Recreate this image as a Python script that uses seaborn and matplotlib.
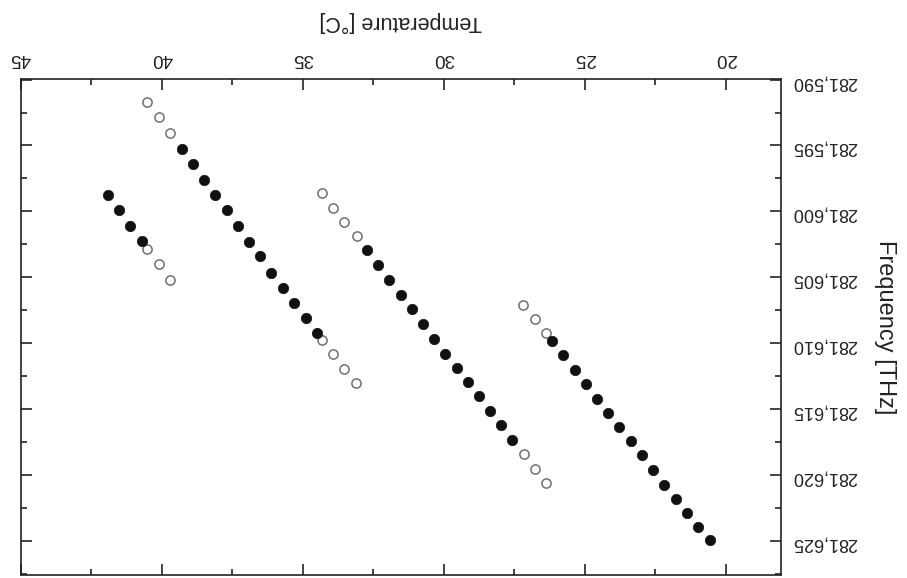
import pandas as pd
import seaborn as sns
import matplotlib.pyplot as plt
from matplotlib.ticker import MultipleLocator, FuncFormatter

# branch A (right-most)
a_open_temp = [27.18, 26.76, 26.37]
a_open_freq = [281.60708, 281.60816, 281.60923]
a_fill_temp = [26.17, 25.76, 25.35, 24.96, 24.57, 24.17, 23.77, 23.37,
               22.98, 22.59, 22.18, 21.76, 21.37, 20.97, 20.56]
a_fill_freq = [281.60983, 281.61091, 281.61204, 281.61314, 281.61422,
               281.61532, 281.61640, 281.61745, 281.61850, 281.61963,
               281.62074, 281.62181, 281.62289, 281.62395, 281.62497]

# branch B
b_open_temp = [34.30, 33.94, 33.54, 33.09, 27.16, 26.76, 26.37]
b_open_freq = [281.59863, 281.59971, 281.60079, 281.60184,
               281.61844, 281.61956, 281.62064]
b_fill_temp = [32.71, 32.32, 31.93, 31.52, 31.11, 30.72, 30.34,
               29.95, 29.54, 29.15, 28.75, 28.36, 27.98, 27.57]
b_fill_freq = [281.60294, 281.60407, 281.60520, 281.60635, 281.60745,
               281.60858, 281.60966, 281.61079, 281.61186, 281.61297,
               281.61404, 281.61512, 281.61625, 281.61733]

# branch C
c_open_temp = [40.51, 40.11, 39.71, 34.30, 33.94, 33.54, 33.11]
c_open_freq = [281.59169, 281.59286, 281.59407,
               281.60980, 281.61086, 281.61196, 281.61304]
c_fill_temp = [39.29, 38.90, 38.50, 38.11, 37.70, 37.28, 36.89,
               36.50, 36.11, 35.71, 35.30, 34.89, 34.50]
c_fill_freq = [281.59530, 281.59643, 281.59763, 281.59878, 281.59991,
               281.60111, 281.60229, 281.60342, 281.60465, 281.60583,
               281.60695, 281.60810, 281.60923]

# branch D (left-most)
d_open_temp = [40.51, 40.11, 39.71]
d_open_freq = [281.60284, 281.60402, 281.60520]
d_fill_temp = [41.91, 41.51, 41.11, 40.71]
d_fill_freq = [281.59878, 281.59991, 281.60111, 281.60226]

open_df = pd.DataFrame({
    "temp": a_open_temp + b_open_temp + c_open_temp + d_open_temp,
    "freq": a_open_freq + b_open_freq + c_open_freq + d_open_freq,
})
fill_df = pd.DataFrame({
    "temp": a_fill_temp + b_fill_temp + c_fill_temp + d_fill_temp,
    "freq": a_fill_freq + b_fill_freq + c_fill_freq + d_fill_freq,
})

sns.set_style("ticks")
plt.rcParams["font.family"] = ["Liberation Sans", "DejaVu Sans"]

fig = plt.figure(figsize=(9.07, 5.78), dpi=100)
ax = fig.add_axes([0.0228, 0.0052, 0.8383, 0.8576])

sns.scatterplot(data=open_df, x="temp", y="freq", ax=ax, s=44,
                facecolor="white", edgecolor="#707070", linewidth=1.1, zorder=3)
sns.scatterplot(data=fill_df, x="temp", y="freq", ax=ax, s=56,
                color="#111111", edgecolor="#111111", linewidth=0.5, zorder=4)

# the whole picture is upside down
ax.set_xlim(45.0, 18.04)
ax.set_ylim(281.6276, 281.58998)

ax.xaxis.set_major_locator(MultipleLocator(5))
ax.xaxis.set_minor_locator(MultipleLocator(2.5))
ax.yaxis.set_major_locator(MultipleLocator(0.005))
ax.yaxis.set_minor_locator(MultipleLocator(0.0025))
ax.xaxis.set_major_formatter(FuncFormatter(lambda v, p: f"{v:.0f}"))
ax.yaxis.set_major_formatter(FuncFormatter(lambda v, p: f"{v:.3f}".replace(".", ",")))

ax.tick_params(which="both", direction="in", top=True, bottom=True,
               left=True, right=True, labeltop=True, labelbottom=False,
               labelleft=False, labelright=True, color="#222222", width=1.2)
ax.tick_params(which="major", length=8)
ax.tick_params(which="minor", length=4.5)
ax.tick_params(axis="x", labelsize=13.5, labelrotation=180, pad=9, labelcolor="#222222")
ax.tick_params(axis="y", labelsize=13, labelrotation=180, pad=8, labelcolor="#222222")

for sp in ax.spines.values():
    sp.set_linewidth(1.2)
    sp.set_color("#222222")

ax.xaxis.set_label_position("top")
ax.yaxis.set_label_position("right")
ax.set_xlabel("Temperature [°C]", fontsize=15.5, rotation=180, labelpad=13,
              va="bottom", color="#222222")
ax.set_ylabel("Frequency [THz]", fontsize=17, rotation=270, labelpad=12,
              va="bottom", color="#222222")

plt.savefig("out.png", dpi=100)
